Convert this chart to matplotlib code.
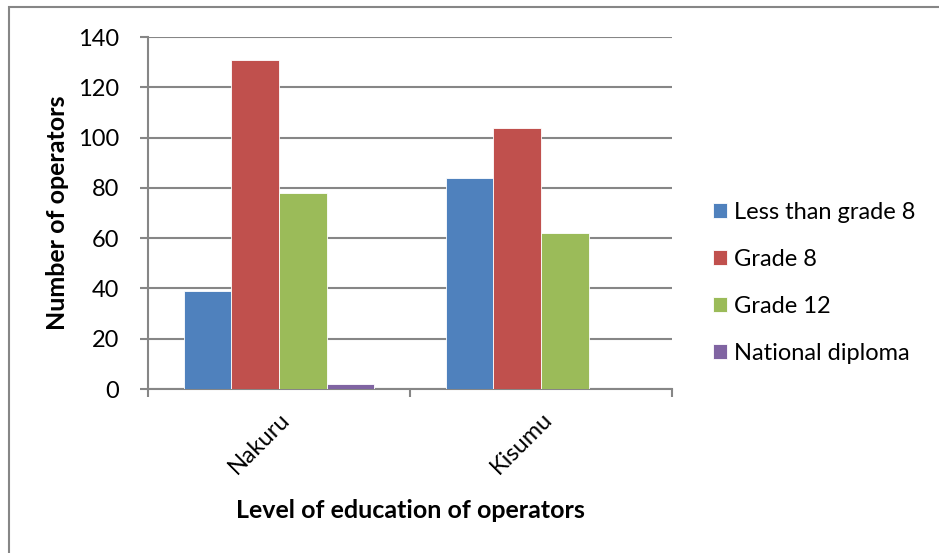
import numpy as np
import matplotlib
matplotlib.use("Agg")
import matplotlib.pyplot as plt
from matplotlib.patches import Rectangle
from matplotlib.transforms import ScaledTranslation

cities = ["Nakuru", "Kisumu"]
levels = ["Less than grade 8", "Grade 8", "Grade 12", "National diploma"]
less_than_g8 = [39, 84]
grade8 = [131, 104]
grade12 = [78, 62]
nat_diploma = [2, 0]
colors = ["#4F81BD", "#C0504D", "#9BBB59", "#8064A2"]
yticks = [0, 20, 40, 60, 80, 100, 120, 140]

plt.rcParams["font.family"] = ["Lato", "DejaVu Sans"]
GRID = "#868686"
FS = 17

fig = plt.figure(figsize=(9.39, 5.53), dpi=100)
fig.patches.append(Rectangle((8.5 / 939, -0.1), 1.2, (553 - 7.5) / 553 + 0.1,
                             transform=fig.transFigure, fill=False,
                             edgecolor=GRID, lw=1.5))
ax = fig.add_axes([148 / 939, (553 - 389) / 553, 524 / 939, 352 / 553])

series = [less_than_g8, grade8, grade12, nat_diploma]
w = 1 / 5.5
x = np.arange(len(cities))
for i, (vals, lbl, c) in enumerate(zip(series, levels, colors)):
    ax.bar(x + (i - 1.5) * w, vals, width=w, color=c, label=lbl,
           edgecolor="white", linewidth=0.6, zorder=3)

ax.set_xlim(-0.5, 1.5)
ax.set_ylim(0, 140)
ax.set_yticks(yticks)
ax.yaxis.grid(True, color=GRID, lw=1.5, zorder=0)
ax.set_xticks([-0.5, 0.5, 1.5])
ax.set_xticklabels([])
ax.set_xticks(x, minor=True)
ax.set_xticklabels(cities, minor=True, rotation=45, ha="right", va="top",
                   rotation_mode="anchor", fontsize=FS)
shift = ScaledTranslation(-6 / 100, 0, fig.dpi_scale_trans)
for t in ax.get_xticklabels(minor=True):
    t.set_transform(t.get_transform() + shift)
ax.tick_params(axis="x", which="minor", length=0, pad=14)
ax.tick_params(axis="x", which="major", length=6, color=GRID, width=1.5)
ax.tick_params(axis="y", length=6, color=GRID, width=1.5, labelsize=FS, pad=15)
for s in ["top", "right"]:
    ax.spines[s].set_visible(False)
for s in ["left", "bottom"]:
    ax.spines[s].set_color(GRID)
    ax.spines[s].set_linewidth(1.5)

ax.set_ylabel("Number of operators", fontsize=18, fontweight="bold", labelpad=6)
ax.set_xlabel("Level of education of operators", fontsize=18, fontweight="bold",
              labelpad=15)

fig.legend(loc="center left", bbox_to_anchor=(692 / 939, (553 - 283) / 553),
           frameon=False, fontsize=FS, handlelength=0.6, handleheight=0.6,
           handletextpad=0.3, labelspacing=1.1)

fig.savefig("out.png", dpi=100)
